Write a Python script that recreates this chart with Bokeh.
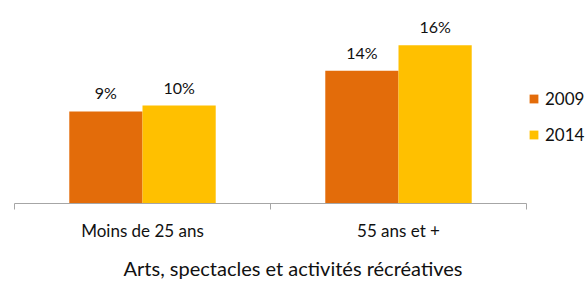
from bokeh.plotting import figure
from bokeh.models import (ColumnDataSource, Range1d, FixedTicker, Legend, LegendItem,
                          LabelSet)
from bokeh.embed import file_html
from bokeh.resources import INLINE
from bokeh.core.properties import value

categories = ["Moins de 25 ans", "55 ans et +"]
series_names = ["2009", "2014"]
values_2009 = [9.3, 13.4]
values_2014 = [9.9, 16.0]
labels_2009 = ["9%", "14%"]
labels_2014 = ["10%", "16%"]
title_text = "Arts, spectacles et activités récréatives"

colors = ["#E36C0A", "#FFC000"]
FONT = "Lato"

W, H = 585, 282
top_border, bottom_border = 10, 77
frame_h = H - top_border - bottom_border
px_per_pct = 10.0
left_pad = 14     # px between frame left and first category
data_w = 512      # pixel width of the category area
n = len(categories)
unit = data_w / n
x_start = -left_pad / unit
x_end = x_start + W / unit

centers = [i + 0.5 for i in range(n)]
bar_w = 0.286
off = bar_w / 2

p = figure(width=W, height=H, output_backend="svg", toolbar_location=None,
           x_range=Range1d(x_start, x_end), y_range=Range1d(0, frame_h / px_per_pct),
           min_border=0, min_border_left=0, min_border_right=0,
           min_border_top=top_border, min_border_bottom=bottom_border)
p.outline_line_color = None
p.grid.visible = False
p.yaxis.visible = False
p.background_fill_color = "white"
p.border_fill_color = "white"

renderers = []
for k, (vals, labs) in enumerate([(values_2009, labels_2009), (values_2014, labels_2014)]):
    xs = [c + (-off if k == 0 else off) for c in centers]
    src = ColumnDataSource(dict(x=xs, top=vals, lab=labs))
    r = p.vbar(x="x", top="top", width=bar_w, source=src, fill_color=colors[k],
               line_color=None)
    renderers.append(r)
    p.add_layout(LabelSet(x="x", y="top", text="lab", source=src, text_align="center",
                          text_baseline="alphabetic", y_offset=12,
                          text_font=value(FONT), text_font_size="16px",
                          text_color="#111111"))

ax = p.xaxis[0]
ax.bounds = (0, n)
ax.ticker = FixedTicker(ticks=centers, minor_ticks=list(range(n + 1)))
ax.major_label_overrides = {c: cat for c, cat in zip(centers, categories)}
ax.major_tick_out = 0
ax.major_tick_in = 0
ax.minor_tick_out = 6
ax.minor_tick_in = 0
ax.axis_line_color = "#a6a6a6"
ax.minor_tick_line_color = "#a6a6a6"
ax.major_label_text_font = FONT
ax.major_label_text_font_size = "17px"
ax.major_label_text_line_height = 1.0
ax.major_label_text_color = "#111111"
ax.major_label_standoff = 10
ax.axis_label = title_text
ax.axis_label_text_font = FONT
ax.axis_label_text_font_size = "20px"
ax.axis_label_text_line_height = 1.0
ax.axis_label_text_font_style = "normal"
ax.axis_label_text_color = "#111111"
ax.axis_label_standoff = 12

legend = Legend(items=[LegendItem(label=s, renderers=[r]) for s, r in zip(series_names, renderers)],
                location=(528, 58), padding=0, margin=0, spacing=15,
                glyph_width=11, glyph_height=11, label_height=20,
                label_standoff=6, label_text_font=FONT, label_text_font_size="17px",
                label_text_color="#111111", border_line_color=None,
                background_fill_alpha=0)
p.add_layout(legend, "center")

open("out.html", "w").write(file_html(p, INLINE))
